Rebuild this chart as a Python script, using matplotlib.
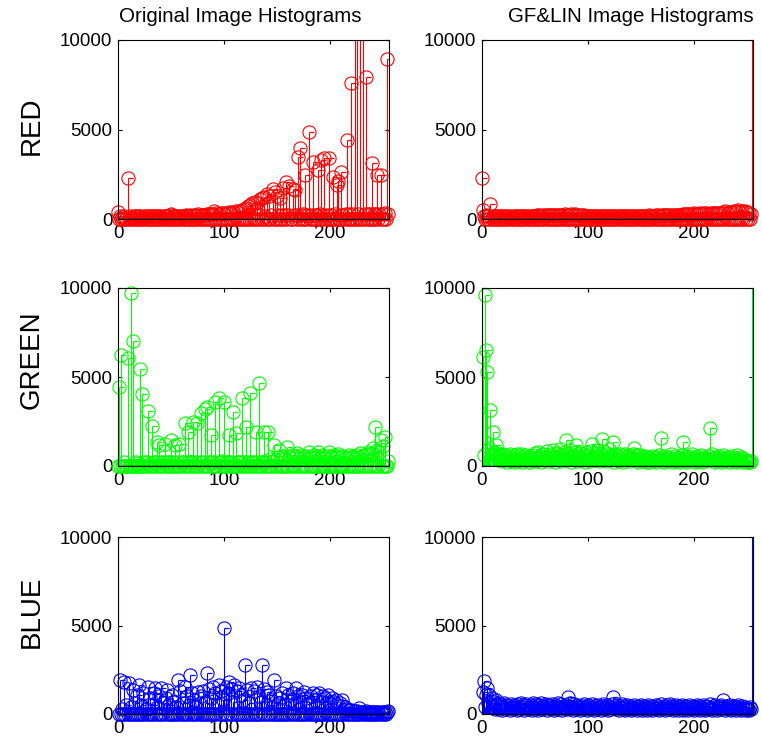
import numpy as np
import matplotlib
matplotlib.use("Agg")
import matplotlib.pyplot as plt

plt.rcParams['font.family'] = ['Liberation Sans', 'DejaVu Sans']

# histogram counts (bins 0..255), values > 10000 run off the axes
red_orig = [
    400, 0, 150, 0, 120, 0, 180, 0, 0, 2300, 0, 150, 0, 130, 0, 160,
    0, 140, 0, 170, 0, 150, 0, 130, 0, 160, 0, 180, 0, 150, 0, 140,
    0, 160, 0, 170, 0, 150, 0, 180, 0, 160, 0, 150, 0, 170, 0, 190,
    0, 210, 300, 0, 180, 0, 160, 0, 170, 0, 190, 0, 180, 0, 170, 0,
    200, 0, 190, 0, 210, 0, 180, 0, 200, 0, 230, 0, 260, 0, 240, 0,
    220, 0, 250, 0, 280, 0, 260, 0, 300, 0, 280, 420, 0, 320, 0, 300,
    0, 350, 0, 330, 0, 280, 0, 320, 0, 380, 0, 350, 0, 400, 0, 420,
    0, 380, 0, 450, 0, 500, 0, 560, 0, 600, 0, 700, 0, 800, 0, 880,
    0, 970, 0, 900, 0, 200, 1100, 0, 1150, 0, 1250, 180, 0, 1400, 0, 1300,
    0, 220, 1650, 0, 1500, 0, 1300, 200, 0, 1200, 0, 250, 1750, 0, 200, 2080,
    0, 230, 1850, 0, 0, 1700, 200, 1600, 0, 250, 3480, 0, 3950, 220, 0, 260,
    0, 2460, 0, 240, 4880, 0, 230, 0, 3200, 0, 250, 0, 220, 2740, 0, 260,
    3300, 0, 240, 3400, 0, 230, 0, 3400, 0, 250, 0, 2360, 0, 260, 0, 1900,
    2100, 0, 240, 2640, 0, 250, 0, 270, 4410, 0, 260, 0, 7600, 0, 280, 0,
    12000, 0, 12000, 300, 0, 12000, 0, 12000, 0, 280, 7950, 0, 300, 0, 260, 0,
    3150, 0, 280, 0, 300, 2450, 0, 290, 2450, 0, 300, 0, 320, 0, 8940, 300,
]
red_glin = [
    2300, 500, 150, 0, 200, 0, 180, 0, 840, 0, 150, 0, 170, 0, 140, 0,
    160, 0, 150, 0, 170, 0, 140, 0, 160, 0, 150, 0, 130, 0, 170, 0,
    150, 0, 160, 0, 140, 0, 170, 0, 150, 0, 160, 0, 140, 0, 150, 0,
    170, 0, 180, 0, 200, 0, 220, 0, 190, 0, 210, 0, 230, 0, 200, 0,
    220, 0, 240, 0, 210, 0, 230, 0, 250, 0, 220, 0, 240, 0, 260, 0,
    230, 0, 250, 0, 270, 0, 240, 0, 260, 0, 230, 0, 250, 0, 220, 0,
    200, 0, 190, 0, 180, 0, 170, 0, 160, 0, 170, 0, 180, 0, 160, 0,
    170, 0, 150, 0, 160, 0, 170, 0, 150, 0, 160, 0, 170, 0, 180, 0,
    160, 0, 170, 0, 150, 0, 160, 0, 170, 0, 180, 0, 160, 0, 170, 0,
    180, 0, 160, 0, 170, 0, 190, 0, 180, 0, 170, 0, 190, 0, 200, 0,
    180, 0, 190, 0, 200, 0, 210, 0, 190, 0, 200, 0, 220, 0, 210, 0,
    200, 0, 220, 0, 230, 0, 210, 0, 240, 0, 250, 0, 230, 0, 260, 0,
    280, 0, 300, 0, 270, 0, 290, 0, 310, 0, 280, 0, 300, 0, 320, 0,
    290, 0, 310, 0, 330, 0, 300, 0, 340, 0, 320, 0, 350, 0, 330, 0,
    360, 0, 340, 0, 380, 0, 420, 0, 360, 0, 400, 0, 380, 0, 450, 0,
    420, 0, 480, 0, 400, 0, 460, 0, 430, 0, 380, 0, 350, 0, 300, 12000,
]
green_orig = [
    0, 4420, 0, 6240, 0, 0, 200, 0, 0, 6050, 0, 0, 9700, 0, 7020, 0,
    0, 250, 0, 180, 0, 5430, 0, 4040, 0, 200, 0, 220, 3090, 0, 190, 0,
    2270, 0, 210, 0, 200, 1365, 0, 1170, 0, 230, 0, 250, 1260, 0, 220, 0,
    230, 0, 1460, 0, 210, 0, 1170, 0, 240, 0, 1260, 0, 220, 250, 0, 2400,
    0, 230, 1930, 0, 230, 0, 220, 2490, 0, 240, 0, 2400, 0, 210, 2960, 0,
    240, 0, 3180, 0, 3330, 0, 230, 250, 1740, 0, 220, 0, 3610, 0, 240, 3800,
    0, 230, 260, 0, 3610, 0, 220, 0, 240, 1740, 0, 240, 0, 3050, 0, 1850,
    0, 230, 250, 0, 220, 3800, 0, 240, 0, 2200, 0, 230, 0, 4080, 0, 220,
    0, 240, 1930, 0, 230, 4650, 0, 250, 0, 220, 1930, 0, 240, 0, 1930, 0,
    400, 0, 300, 1170, 0, 350, 0, 500, 900, 0, 400, 0, 550, 0, 450, 0,
    1090, 0, 500, 0, 600, 0, 450, 0, 550, 720, 0, 450, 0, 600, 0, 500,
    0, 550, 0, 450, 810, 0, 500, 0, 600, 0, 450, 0, 550, 810, 0, 500,
    0, 600, 0, 450, 0, 550, 0, 760, 0, 500, 0, 600, 0, 450, 0, 550,
    680, 0, 450, 0, 550, 0, 500, 0, 450, 0, 630, 0, 500, 0, 550, 0,
    450, 0, 600, 0, 500, 720, 0, 550, 0, 600, 0, 650, 810, 0, 700, 0,
    750, 1000, 0, 2210, 0, 900, 0, 800, 1460, 0, 1100, 0, 1650, 0, 0, 300,
]
green_glin = [
    12000, 6100, 600, 9610, 6520, 5300, 900, 1000, 3150, 700, 1930, 800, 600, 1170, 500, 700,
    400, 650, 300, 500, 700, 350, 600, 450, 200, 550, 650, 300, 500, 400, 600, 250,
    450, 700, 300, 550, 400, 650, 250, 500, 350, 600, 450, 300, 550, 200, 500, 400,
    600, 350, 750, 300, 500, 800, 400, 550, 250, 650, 700, 350, 500, 850, 300, 600,
    450, 700, 350, 900, 500, 250, 650, 750, 400, 550, 950, 300, 600, 450, 800, 1460,
    350, 650, 500, 900, 250, 700, 550, 400, 800, 1170, 300, 600, 450, 750, 350, 500,
    650, 250, 550, 800, 400, 700, 300, 850, 1260, 450, 600, 350, 750, 500, 900, 300,
    650, 1500, 400, 550, 800, 300, 700, 450, 950, 350, 600, 500, 1370, 250, 650, 400,
    550, 300, 700, 450, 600, 250, 500, 650, 350, 550, 400, 600, 300, 500, 450, 700,
    1000, 350, 550, 250, 450, 600, 300, 500, 400, 350, 550, 250, 450, 300, 500, 200,
    400, 550, 300, 450, 250, 500, 350, 600, 400, 1560, 300, 450, 250, 550, 350, 400,
    500, 300, 450, 650, 250, 400, 550, 300, 450, 350, 500, 250, 400, 600, 1370, 300,
    450, 250, 550, 350, 400, 500, 700, 300, 450, 250, 400, 550, 300, 450, 350, 600,
    250, 400, 500, 300, 450, 350, 550, 2120, 400, 700, 300, 450, 250, 500, 350, 400,
    550, 300, 450, 250, 600, 350, 400, 500, 300, 450, 250, 550, 350, 400, 300, 450,
    250, 600, 350, 400, 300, 500, 250, 450, 300, 350, 200, 300, 250, 200, 300, 12000,
]
blue_orig = [
    12000, 0, 1920, 0, 300, 0, 1830, 0, 500, 0, 1730, 0, 400, 0, 1370, 0,
    600, 0, 1100, 0, 1640, 0, 500, 0, 1200, 0, 300, 0, 1540, 0, 900, 0,
    500, 0, 1200, 1450, 0, 400, 0, 1000, 0, 1450, 0, 600, 0, 900, 1360, 0,
    500, 0, 0, 1080, 0, 700, 0, 400, 0, 1920, 0, 1300, 0, 600, 0, 1540,
    0, 1000, 0, 500, 2200, 0, 1200, 0, 800, 0, 400, 0, 1260, 0, 1000, 0,
    1300, 0, 600, 0, 2300, 0, 1400, 0, 900, 0, 1540, 0, 1200, 0, 500, 1640,
    0, 1300, 0, 800, 4840, 0, 1500, 0, 1200, 1830, 0, 1400, 0, 700, 1640, 0,
    1300, 0, 1450, 0, 1100, 0, 800, 0, 2770, 0, 1350, 0, 600, 0, 1450, 0,
    1300, 0, 0, 1540, 0, 1000, 0, 700, 2770, 0, 1400, 0, 500, 1260, 0, 1100,
    0, 800, 0, 1920, 0, 1000, 0, 600, 0, 900, 0, 1200, 0, 500, 0, 1450,
    0, 1100, 0, 800, 0, 1200, 0, 600, 1450, 0, 1000, 0, 700, 0, 1100, 0,
    1260, 0, 900, 0, 600, 0, 1000, 0, 1170, 0, 800, 0, 1050, 0, 1170, 0,
    700, 0, 1000, 0, 900, 0, 1080, 0, 600, 0, 900, 0, 700, 0, 800, 0,
    500, 0, 600, 0, 800, 0, 400, 0, 300, 0, 250, 0, 200, 0, 150, 0,
    180, 0, 150, 0, 340, 0, 120, 0, 100, 0, 150, 0, 120, 0, 100, 0,
    130, 0, 110, 0, 120, 0, 100, 0, 130, 0, 110, 0, 120, 0, 100, 150,
]
blue_glin = [
    12000, 1250, 1860, 400, 1100, 1450, 600, 1080, 500, 900, 400, 700, 300, 800, 500, 600,
    300, 450, 550, 250, 400, 600, 300, 500, 350, 450, 250, 550, 400, 300, 500, 350,
    450, 250, 550, 300, 400, 600, 350, 500, 250, 450, 550, 300, 400, 350, 500, 250,
    600, 400, 300, 550, 450, 250, 500, 350, 600, 300, 450, 400, 550, 250, 500, 350,
    450, 300, 550, 400, 250, 500, 350, 450, 600, 300, 400, 550, 250, 450, 350, 500,
    300, 980, 450, 600, 350, 400, 250, 550, 450, 300, 500, 350, 400, 250, 450, 300,
    550, 350, 400, 250, 500, 450, 300, 350, 550, 400, 250, 450, 300, 500, 350, 400,
    250, 450, 550, 300, 400, 350, 500, 250, 450, 300, 400, 550, 980, 350, 450, 300,
    500, 250, 400, 350, 550, 300, 450, 250, 400, 500, 300, 350, 450, 250, 400, 300,
    500, 350, 250, 450, 400, 300, 500, 250, 350, 450, 300, 400, 250, 500, 350, 300,
    450, 250, 400, 350, 500, 300, 450, 250, 400, 550, 300, 350, 450, 250, 400, 500,
    300, 350, 550, 450, 250, 400, 300, 500, 350, 250, 450, 400, 300, 500, 250, 350,
    450, 300, 400, 250, 500, 350, 300, 450, 250, 400, 350, 500, 300, 450, 250, 400,
    350, 500, 300, 250, 450, 400, 300, 550, 350, 250, 450, 300, 500, 400, 250, 350,
    450, 300, 500, 350, 800, 400, 250, 450, 300, 350, 500, 250, 400, 300, 450, 350,
    250, 400, 500, 300, 350, 250, 450, 300, 400, 250, 350, 300, 250, 400, 300, 12000,
]

row_names = ["RED", "GREEN", "BLUE"]
col_titles = ["Original Image Histograms", "GF&LIN Image Histograms"]
panels = [[red_orig, red_glin], [green_orig, green_glin], [blue_orig, blue_glin]]
colors = ["#ff0000", "#00ff00", "#0000ff"]

W, H = 762, 749
fig = plt.figure(figsize=(W / 100, H / 100), dpi=100)

col_x = [118, 482]
row_y = [(40, 219), (288, 466), (537, 714)]
ax_w = 271


def stem_hist(ax, vals, color):
    x = np.arange(len(vals))
    y = np.array(vals, dtype=float)
    ax.vlines(x, 0, y, colors=color, lw=0.8)
    vis = y <= 10000
    ax.plot(x[vis], y[vis], 'o', mfc='none', mec=color, ms=9.5, mew=0.8, clip_on=False)
    ax.plot(x[vis], y[vis], ls='none', marker=1, color=color, ms=3.5, mew=0.9)
    ax.axhline(0, color='k', lw=1.0, zorder=3)


for r in range(3):
    top, bot = row_y[r]
    for c in range(2):
        ax = fig.add_axes([col_x[c] / W, 1 - bot / H, ax_w / W, (bot - top) / H])
        stem_hist(ax, panels[r][c], colors[r])
        ax.set_xlim(0, 256)
        ax.set_ylim(0, 10000)
        ax.set_xticks([0, 100, 200])
        ax.set_yticks([0, 5000, 10000])
        ax.tick_params(direction='in', top=True, right=True, length=3, width=0.8,
                       labelsize=13.5, pad=4)
        for s in ax.spines.values():
            s.set_linewidth(0.8)

for c in range(2):
    cx = [240, 631][c]
    fig.text(cx / W, 1 - 17 / H, col_titles[c], ha='center', va='center', fontsize=14.8)

for r, name in enumerate(row_names):
    cy = [126, 360, 612][r]
    fig.text(32 / W, 1 - cy / H, name, ha='center', va='center', rotation=90, fontsize=20)

fig.savefig("out.png", dpi=100)
